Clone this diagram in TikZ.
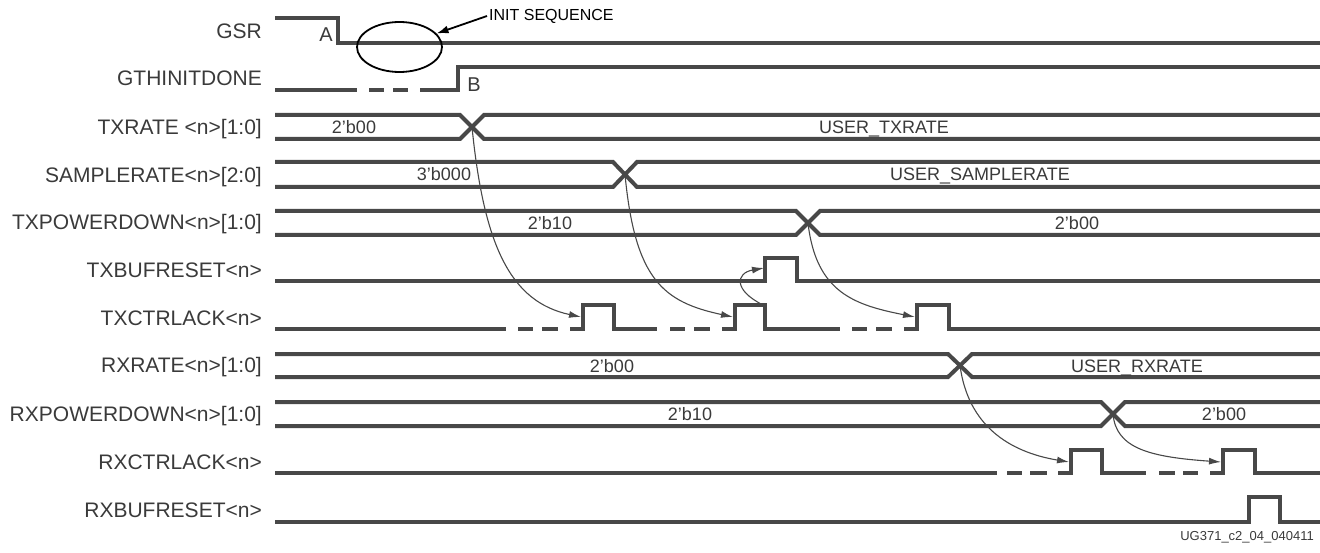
\documentclass[tikz,border=0pt]{standalone}
\usepackage{fontspec}
\setmainfont{Liberation Sans}
\usetikzlibrary{arrows.meta,shapes.geometric}
\definecolor{wcol}{RGB}{72,72,72}
\definecolor{tcol}{RGB}{58,58,58}
\newcommand{\buswave}[3]{%
  \draw[wave] (275,#1) -- ({#3-12},#1) -- ({#3+12},#2) -- (1320,#2);
  \draw[wave] (275,#2) -- ({#3-12},#2) -- ({#3+12},#1) -- (1320,#1);}
\begin{document}
\begin{tikzpicture}[x=1pt,y=-1pt,
  wave/.style={draw=wcol,line width=4pt},
  sig/.style={anchor=base east,inner sep=0,text=tcol,font=\fontsize{21}{23}\selectfont},
  val/.style={anchor=base,inner sep=0,text=tcol,font=\fontsize{18}{20}\selectfont},
  edgelbl/.style={anchor=base,inner sep=0,text=tcol,font=\fontsize{20}{22}\selectfont},
  cause/.style={draw=wcol,line width=1.1pt,-{Latex[length=12pt,width=7pt]}},
  note/.style={draw=black,line width=1.8pt,-{Latex[length=12pt,width=8pt]}}]
\useasboundingbox (0,0) rectangle (1320,553);
% signal names
\node[sig] (nGSR) at (262,38.5) {GSR};
\node[sig] (nGTH) at (262,85.5) {GTHINITDONE};
\node[sig] (nTXR) at (262,134.5) {TXRATE <n>[1:0]};
\node[sig] (nSMP) at (262,182.5) {SAMPLERATE<n>[2:0]};
\node[sig] (nTXP) at (262,229.5) {TXPOWERDOWN<n>[1:0]};
\node[sig] (nTXB) at (262,277.5) {TXBUFRESET<n>};
\node[sig] (nTXC) at (262,325.5) {TXCTRLACK<n>};
\node[sig] (nRXR) at (262,372.5) {RXRATE<n>[1:0]};
\node[sig] (nRXP) at (262,421.5) {RXPOWERDOWN<n>[1:0]};
\node[sig] (nRXC) at (262,469.5) {RXCTRLACK<n>};
\node[sig] (nRXB) at (262,517.5) {RXBUFRESET<n>};
% GSR
\draw[wave] (275,18) -- (338,18) -- (338,43) -- (1320,43);
\node[edgelbl] (lA) at (326,42) {A};
% GTHINITDONE
\draw[wave] (275,90) -- (357,90);
\draw[wave] (369,90) -- (384,90);
\draw[wave] (393,90) -- (408,90);
\draw[wave] (420,90) -- (458,90) -- (458,67) -- (1320,67);
\node[edgelbl] (lB) at (474,92) {B};
% init sequence
\node (initoval) [draw=black,line width=1.8pt,ellipse,minimum width=85pt,minimum height=50pt,inner sep=0] at (399.5,47) {};
\node (initlbl) [anchor=west,inner sep=2pt,font=\fontsize{16}{18}\selectfont] at (487,16) {INIT SEQUENCE};
\draw[note] (initlbl.west) -- (initoval.20);
% buses
\buswave{115}{139}{472}
\buswave{162}{187}{625}
\buswave{211}{235}{808}
\buswave{354}{377}{960}
\buswave{402}{426}{1113}
\coordinate (xTXR) at (472,127);
\coordinate (xSMP) at (625,174.5);
\coordinate (xTXP) at (808,223);
\coordinate (xRXR) at (960,365.5);
\coordinate (xRXP) at (1113,414);
\node[val] (v1) at (354,133.5) {2’b00};
\node[val] (v2) at (884,133.5) {USER\_TXRATE};
\node[val] (v3) at (444,181) {3’b000};
\node[val] (v4) at (980,181) {USER\_SAMPLERATE};
\node[val] (v5) at (550,229.5) {2’b10};
\node[val] (v6) at (1077,229.5) {2’b00};
\node[val] (v7) at (612,372) {2’b00};
\node[val] (v8) at (1137,372) {USER\_RXRATE};
\node[val] (v9) at (690,420.5) {2’b10};
\node[val] (v10) at (1224,420.5) {2’b00};
% TXBUFRESET
\draw[wave] (275,281) -- (765,281) -- (765,258) -- (797,258) -- (797,281) -- (1320,281);
\coordinate (pTXB) at (764,268);
% TXCTRLACK
\draw[wave] (275,329) -- (506,329);
\draw[wave] (518,329) -- (533,329);
\draw[wave] (542,329) -- (558,329);
\draw[wave] (570,329) -- (583,329) -- (583,305) -- (614,305) -- (614,329) -- (657,329);
\draw[wave] (670,329) -- (685,329);
\draw[wave] (694,329) -- (710,329);
\draw[wave] (722,329) -- (735,329) -- (735,305) -- (765,305) -- (765,329) -- (840,329);
\draw[wave] (852,329) -- (867,329);
\draw[wave] (876,329) -- (892,329);
\draw[wave] (904,329) -- (917,329) -- (917,305) -- (949,305) -- (949,329) -- (1320,329);
\coordinate (pC1) at (581,317);
\coordinate (pC2) at (733,317);
\coordinate (pC2t) at (763,305);
\coordinate (pC3) at (915,317);
% RXCTRLACK
\draw[wave] (275,473) -- (997,473);
\draw[wave] (1007,473) -- (1022,473);
\draw[wave] (1030,473) -- (1047,473);
\draw[wave] (1058,473) -- (1071,473) -- (1071,450) -- (1102,450) -- (1102,473) -- (1146,473);
\draw[wave] (1159,473) -- (1175,473);
\draw[wave] (1183,473) -- (1198,473);
\draw[wave] (1210,473) -- (1223,473) -- (1223,450) -- (1255,450) -- (1255,473) -- (1320,473);
\coordinate (pR1) at (1069,462);
\coordinate (pR2) at (1221,462);
% RXBUFRESET
\draw[wave] (275,522) -- (1249,522) -- (1249,497) -- (1280,497) -- (1280,522) -- (1320,522);
% cause arrows
\draw[cause] (xTXR) .. controls +(12,120) and +(-70,-15) .. (pC1);
\draw[cause] (xSMP) .. controls +(10,105) and +(-70,-15) .. (pC2);
\draw[cause] (pC2t) .. controls +(-30,-15) and +(-28,5) .. (pTXB);
\draw[cause] (xTXP) .. controls +(8,70) and +(-60,-12) .. (pC3);
\draw[cause] (xRXR) .. controls +(8,60) and +(-60,-10) .. (pR1);
\draw[cause] (xRXP) .. controls +(3,35) and +(-70,-5) .. (pR2);
% figure id
\node (fid) [anchor=base east,inner sep=0,text=tcol,font=\fontsize{13}{15}\selectfont] at (1314,540) {UG371\_c2\_04\_040411};
\end{tikzpicture}
\end{document}
